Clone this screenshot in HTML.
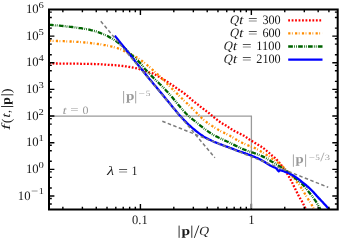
<!DOCTYPE html>
<html><head><meta charset="utf-8"><title>plot</title>
<style>html,body{margin:0;padding:0;background:#fff;}body{width:341px;height:243px;overflow:hidden;position:relative;font-family:"Liberation Serif",serif;}</style>
</head><body>
<svg width="341" height="243" viewBox="0 0 341 243" style="position:absolute;left:0;top:0;will-change:transform">
<rect x="0" y="0" width="341" height="243" fill="#fff"/>
<defs><clipPath id="c"><rect x="49.0" y="9.5" width="288.7" height="200.0"/></clipPath></defs>
<path d="M49.0,116.1 H251.4 V209.5" fill="none" stroke="#9a9a9a" stroke-width="1.3"/>
<g fill="none" clip-path="url(#c)">
<path d="M49.0,63.3 L50.0,63.4 L51.0,63.4 L52.0,63.4 L53.0,63.4 L54.0,63.5 L55.0,63.5 L56.0,63.5 L57.0,63.5 L58.0,63.5 L59.0,63.6 L60.0,63.6 L61.0,63.6 L62.0,63.6 L63.0,63.6 L64.0,63.6 L65.0,63.6 L66.0,63.6 L67.0,63.6 L68.0,63.6 L69.0,63.7 L70.0,63.7 L71.0,63.7 L72.0,63.7 L73.0,63.7 L74.0,63.7 L75.0,63.7 L76.0,63.7 L77.0,63.7 L78.0,63.7 L79.0,63.7 L80.0,63.7 L81.0,63.8 L82.0,63.8 L83.0,63.8 L84.0,63.8 L85.0,63.8 L86.0,63.8 L87.0,63.8 L88.0,63.9 L89.0,63.9 L90.0,63.9 L91.0,63.9 L92.0,64.0 L93.0,64.0 L94.0,64.0 L95.0,64.1 L96.0,64.1 L97.0,64.1 L98.0,64.2 L99.0,64.2 L100.0,64.3 L101.0,64.3 L102.0,64.4 L103.0,64.5 L104.0,64.5 L105.0,64.6 L106.0,64.6 L107.0,64.7 L108.0,64.8 L109.0,64.8 L110.0,64.9 L111.0,65.0 L112.0,65.0 L113.0,65.1 L114.0,65.2 L115.0,65.2 L116.0,65.3 L117.0,65.4 L118.0,65.5 L119.0,65.6 L120.0,65.7 L121.0,65.8 L122.0,65.9 L123.0,66.0 L124.0,66.1 L125.0,66.3 L126.0,66.4 L127.0,66.5 L128.0,66.7 L129.0,66.9 L130.0,67.0 L131.0,67.2 L132.0,67.4 L133.0,67.6 L134.0,67.8 L135.0,68.0 L136.0,68.2 L137.0,68.5 L138.0,68.7 L139.0,69.0 L140.0,69.3 L141.0,69.6 L142.0,69.9 L143.0,70.3 L144.0,70.6 L145.0,71.0 L146.0,71.3 L147.0,71.7 L148.0,72.0 L149.0,72.3 L150.0,72.6 L151.0,72.9 L152.0,73.2 L153.0,73.6 L154.0,74.1 L155.0,74.5 L156.0,75.1 L157.0,75.6 L158.0,76.2 L159.0,76.7 L160.0,77.3 L161.0,77.9 L162.0,78.5 L163.0,79.1 L164.0,79.7 L165.0,80.3 L166.0,81.0 L167.0,81.6 L168.0,82.3 L169.0,83.0 L170.0,83.6 L171.0,84.3 L172.0,85.0 L173.0,85.6 L174.0,86.3 L175.0,87.0 L176.0,87.7 L177.0,88.3 L178.0,89.0 L179.0,89.7 L180.0,90.3 L181.0,91.0 L182.0,91.7 L183.0,92.5 L184.0,93.2 L185.0,94.0 L186.0,94.8 L187.0,95.6 L188.0,96.4 L189.0,97.3 L190.0,98.2 L191.0,99.1 L192.0,100.0 L193.0,100.8 L194.0,101.6 L195.0,102.4 L196.0,103.2 L197.0,103.9 L198.0,104.7 L199.0,105.5 L200.0,106.3 L201.0,107.1 L202.0,107.9 L203.0,108.6 L204.0,109.4 L205.0,110.2 L206.0,110.9 L207.0,111.7 L208.0,112.4 L209.0,113.2 L210.0,114.0 L211.0,114.8 L212.0,115.6 L213.0,116.4 L214.0,117.3 L215.0,118.1 L216.0,118.9 L217.0,119.7 L218.0,120.5 L219.0,121.3 L220.0,122.0 L221.0,122.7 L222.0,123.3 L223.0,123.9 L224.0,124.4 L225.0,125.0 L226.0,125.6 L227.0,126.2 L228.0,126.9 L229.0,127.6 L230.0,128.3 L231.0,128.9 L232.0,129.5 L233.0,130.1 L234.0,130.7 L235.0,131.2 L236.0,131.7 L237.0,132.2 L238.0,132.7 L239.0,133.2 L240.0,133.7 L241.0,134.2 L242.0,134.7 L243.0,135.3 L244.0,135.8 L245.0,136.4 L246.0,137.1 L247.0,137.8 L248.0,138.5 L249.0,139.2 L250.0,139.9 L251.0,140.5 L252.0,141.1 L253.0,141.7 L254.0,142.3 L255.0,142.9 L256.0,143.5 L257.0,144.1 L258.0,144.7 L259.0,145.3 L260.0,145.9 L261.0,146.5 L262.0,147.2 L263.0,147.9 L264.0,148.6 L265.0,149.4 L266.0,150.2 L267.0,151.1 L268.0,151.9 L269.0,152.8 L270.0,153.8 L271.0,154.6 L272.0,155.5 L273.0,156.3 L274.0,157.1 L275.0,158.0 L276.0,159.0 L277.0,160.0 L278.0,161.1 L279.0,162.3 L280.0,163.4 L281.0,164.7 L282.0,166.0 L283.0,167.3 L284.0,168.8 L285.0,170.3 L286.0,171.9 L287.0,173.5 L288.0,175.1 L289.0,176.8 L290.0,178.6 L291.0,180.4 L292.0,182.3 L293.0,184.3 L294.0,186.4 L295.0,188.4 L296.0,190.4 L297.0,192.5 L298.0,194.5 L299.0,196.4 L300.0,198.2 L301.0,199.8 L302.0,201.5 L303.0,203.4 L304.0,205.4 L305.0,207.5 L305.8,209.3" stroke="#ff0000" stroke-width="2.3" stroke-dasharray="1.8 1.66"/>
<path d="M49.0,40.6 L50.0,40.7 L51.0,40.7 L52.0,40.7 L53.0,40.8 L54.0,40.8 L55.0,40.9 L56.0,40.9 L57.0,41.0 L58.0,41.0 L59.0,41.0 L60.0,41.1 L61.0,41.1 L62.0,41.2 L63.0,41.2 L64.0,41.2 L65.0,41.3 L66.0,41.3 L67.0,41.4 L68.0,41.4 L69.0,41.4 L70.0,41.5 L71.0,41.5 L72.0,41.6 L73.0,41.6 L74.0,41.7 L75.0,41.7 L76.0,41.8 L77.0,41.9 L78.0,41.9 L79.0,42.0 L80.0,42.1 L81.0,42.2 L82.0,42.2 L83.0,42.3 L84.0,42.4 L85.0,42.5 L86.0,42.6 L87.0,42.7 L88.0,42.8 L89.0,42.9 L90.0,43.0 L91.0,43.1 L92.0,43.3 L93.0,43.4 L94.0,43.5 L95.0,43.6 L96.0,43.7 L97.0,43.9 L98.0,44.0 L99.0,44.1 L100.0,44.3 L101.0,44.4 L102.0,44.6 L103.0,44.8 L104.0,45.0 L105.0,45.1 L106.0,45.3 L107.0,45.5 L108.0,45.7 L109.0,45.9 L110.0,46.1 L111.0,46.4 L112.0,46.6 L113.0,46.8 L114.0,47.1 L115.0,47.4 L116.0,47.7 L117.0,48.0 L118.0,48.3 L119.0,48.6 L120.0,49.0 L121.0,49.4 L122.0,49.9 L123.0,50.4 L124.0,50.9 L125.0,51.4 L126.0,52.0 L127.0,52.5 L128.0,53.0 L129.0,53.5 L130.0,54.0 L131.0,54.4 L132.0,54.9 L133.0,55.4 L134.0,55.9 L135.0,56.4 L136.0,57.0 L137.0,57.6 L138.0,58.2 L139.0,58.9 L140.0,59.5 L141.0,60.3 L142.0,61.0 L143.0,61.8 L144.0,62.5 L145.0,63.3 L146.0,64.1 L147.0,64.9 L148.0,65.8 L149.0,66.7 L150.0,67.5 L151.0,68.4 L152.0,69.3 L153.0,70.2 L154.0,71.1 L155.0,72.0 L156.0,72.9 L157.0,73.8 L158.0,74.7 L159.0,75.7 L160.0,76.6 L161.0,77.6 L162.0,78.6 L163.0,79.6 L164.0,80.6 L165.0,81.6 L166.0,82.6 L167.0,83.6 L168.0,84.6 L169.0,85.6 L170.0,86.6 L171.0,87.6 L172.0,88.6 L173.0,89.6 L174.0,90.6 L175.0,91.6 L176.0,92.6 L177.0,93.6 L178.0,94.6 L179.0,95.6 L180.0,96.6 L181.0,97.6 L182.0,98.5 L183.0,99.5 L184.0,100.5 L185.0,101.4 L186.0,102.4 L187.0,103.3 L188.0,104.3 L189.0,105.2 L190.0,106.2 L191.0,107.2 L192.0,108.2 L193.0,109.2 L194.0,110.3 L195.0,111.3 L196.0,112.3 L197.0,113.3 L198.0,114.3 L199.0,115.3 L200.0,116.3 L201.0,117.3 L202.0,118.3 L203.0,119.2 L204.0,120.1 L205.0,120.9 L206.0,121.7 L207.0,122.5 L208.0,123.2 L209.0,123.9 L210.0,124.5 L211.0,125.2 L212.0,125.9 L213.0,126.5 L214.0,127.1 L215.0,127.8 L216.0,128.4 L217.0,129.0 L218.0,129.6 L219.0,130.2 L220.0,130.7 L221.0,131.3 L222.0,131.8 L223.0,132.3 L224.0,132.8 L225.0,133.3 L226.0,133.8 L227.0,134.3 L228.0,134.8 L229.0,135.3 L230.0,135.8 L231.0,136.4 L232.0,137.0 L233.0,137.6 L234.0,138.2 L235.0,138.8 L236.0,139.4 L237.0,140.0 L238.0,140.6 L239.0,141.1 L240.0,141.7 L241.0,142.2 L242.0,142.7 L243.0,143.2 L244.0,143.7 L245.0,144.1 L246.0,144.6 L247.0,145.0 L248.0,145.4 L249.0,145.8 L250.0,146.2 L251.0,146.5 L252.0,146.9 L253.0,147.3 L254.0,147.7 L255.0,148.1 L256.0,148.6 L257.0,149.2 L258.0,149.7 L259.0,150.3 L260.0,150.9 L261.0,151.5 L262.0,152.1 L263.0,152.7 L264.0,153.3 L265.0,153.9 L266.0,154.6 L267.0,155.2 L268.0,155.9 L269.0,156.5 L270.0,157.2 L271.0,157.9 L272.0,158.5 L273.0,159.2 L274.0,159.9 L275.0,160.5 L276.0,161.2 L277.0,161.9 L278.0,162.6 L279.0,163.4 L280.0,164.2 L281.0,165.1 L282.0,166.0 L283.0,166.9 L284.0,167.9 L285.0,168.8 L286.0,169.8 L287.0,170.8 L288.0,171.8 L289.0,172.8 L290.0,173.9 L291.0,175.0 L292.0,176.1 L293.0,177.3 L294.0,178.5 L295.0,179.7 L296.0,180.9 L297.0,182.2 L298.0,183.4 L299.0,184.7 L300.0,186.1 L301.0,187.5 L302.0,189.0 L303.0,190.6 L304.0,192.3 L305.0,194.0 L306.0,195.7 L307.0,197.4 L308.0,198.9 L309.0,200.5 L310.0,202.0 L311.0,203.6 L312.0,205.3 L313.0,207.1 L314.0,208.9 L314.2,209.3" stroke="#ff8c00" stroke-width="2.3" stroke-dasharray="2.2 1.5 0.8 2.35"/>
<path d="M49.0,24.7 L50.0,24.8 L51.0,24.9 L52.0,25.0 L53.0,25.1 L54.0,25.2 L55.0,25.3 L56.0,25.3 L57.0,25.4 L58.0,25.5 L59.0,25.6 L60.0,25.7 L61.0,25.8 L62.0,25.9 L63.0,26.0 L64.0,26.1 L65.0,26.2 L66.0,26.3 L67.0,26.5 L68.0,26.6 L69.0,26.7 L70.0,26.8 L71.0,26.9 L72.0,27.0 L73.0,27.2 L74.0,27.3 L75.0,27.4 L76.0,27.5 L77.0,27.7 L78.0,27.8 L79.0,28.0 L80.0,28.1 L81.0,28.2 L82.0,28.4 L83.0,28.6 L84.0,28.7 L85.0,28.9 L86.0,29.1 L87.0,29.2 L88.0,29.4 L89.0,29.6 L90.0,29.8 L91.0,30.1 L92.0,30.3 L93.0,30.6 L94.0,30.8 L95.0,31.1 L96.0,31.4 L97.0,31.8 L98.0,32.1 L99.0,32.5 L100.0,32.9 L101.0,33.3 L102.0,33.7 L103.0,34.1 L104.0,34.5 L105.0,34.9 L106.0,35.4 L107.0,35.8 L108.0,36.3 L109.0,36.9 L110.0,37.4 L111.0,38.0 L112.0,38.5 L113.0,39.2 L114.0,39.8 L115.0,40.5 L116.0,41.1 L117.0,41.8 L118.0,42.6 L119.0,43.3 L120.0,44.1 L121.0,44.9 L122.0,45.7 L123.0,46.6 L124.0,47.5 L125.0,48.5 L126.0,49.4 L127.0,50.4 L128.0,51.4 L129.0,52.4 L130.0,53.4 L131.0,54.3 L132.0,55.3 L133.0,56.2 L134.0,57.1 L135.0,58.0 L136.0,59.0 L137.0,59.9 L138.0,60.9 L139.0,61.9 L140.0,62.9 L141.0,64.0 L142.0,65.2 L143.0,66.4 L144.0,67.7 L145.0,68.9 L146.0,70.0 L147.0,71.1 L148.0,72.2 L149.0,73.3 L150.0,74.3 L151.0,75.4 L152.0,76.4 L153.0,77.4 L154.0,78.4 L155.0,79.4 L156.0,80.4 L157.0,81.4 L158.0,82.3 L159.0,83.3 L160.0,84.3 L161.0,85.2 L162.0,86.2 L163.0,87.2 L164.0,88.2 L165.0,89.3 L166.0,90.4 L167.0,91.5 L168.0,92.6 L169.0,93.7 L170.0,94.8 L171.0,95.9 L172.0,97.1 L173.0,98.3 L174.0,99.5 L175.0,100.7 L176.0,101.9 L177.0,103.2 L178.0,104.4 L179.0,105.6 L180.0,106.7 L181.0,107.9 L182.0,109.1 L183.0,110.2 L184.0,111.3 L185.0,112.4 L186.0,113.5 L187.0,114.5 L188.0,115.5 L189.0,116.4 L190.0,117.3 L191.0,118.1 L192.0,118.9 L193.0,119.7 L194.0,120.4 L195.0,121.2 L196.0,122.0 L197.0,122.8 L198.0,123.6 L199.0,124.5 L200.0,125.3 L201.0,126.1 L202.0,126.9 L203.0,127.7 L204.0,128.5 L205.0,129.2 L206.0,130.0 L207.0,130.7 L208.0,131.4 L209.0,132.1 L210.0,132.8 L211.0,133.5 L212.0,134.1 L213.0,134.7 L214.0,135.3 L215.0,135.8 L216.0,136.3 L217.0,136.8 L218.0,137.3 L219.0,137.8 L220.0,138.2 L221.0,138.7 L222.0,139.2 L223.0,139.6 L224.0,140.1 L225.0,140.6 L226.0,141.0 L227.0,141.5 L228.0,141.9 L229.0,142.4 L230.0,142.9 L231.0,143.4 L232.0,143.9 L233.0,144.4 L234.0,144.9 L235.0,145.4 L236.0,145.9 L237.0,146.3 L238.0,146.8 L239.0,147.3 L240.0,147.7 L241.0,148.2 L242.0,148.6 L243.0,149.1 L244.0,149.5 L245.0,149.9 L246.0,150.3 L247.0,150.7 L248.0,151.0 L249.0,151.4 L250.0,151.7 L251.0,152.0 L252.0,152.4 L253.0,152.7 L254.0,153.0 L255.0,153.4 L256.0,153.8 L257.0,154.1 L258.0,154.5 L259.0,154.9 L260.0,155.3 L261.0,155.7 L262.0,156.1 L263.0,156.6 L264.0,157.1 L265.0,157.6 L266.0,158.2 L267.0,158.8 L268.0,159.4 L269.0,160.0 L270.0,160.6 L271.0,161.2 L272.0,161.8 L273.0,162.3 L274.0,162.9 L275.0,163.5 L276.0,164.2 L277.0,164.8 L278.0,165.4 L279.0,166.0 L280.0,166.6 L281.0,167.3 L282.0,167.9 L283.0,168.6 L284.0,169.2 L285.0,169.9 L286.0,170.6 L287.0,171.3 L288.0,172.1 L289.0,172.9 L290.0,173.7 L291.0,174.6 L292.0,175.4 L293.0,176.3 L294.0,177.1 L295.0,178.0 L296.0,178.8 L297.0,179.6 L298.0,180.5 L299.0,181.3 L300.0,182.1 L301.0,183.0 L302.0,183.9 L303.0,184.9 L304.0,186.0 L305.0,187.1 L306.0,188.3 L307.0,189.6 L308.0,190.9 L309.0,192.2 L310.0,193.5 L311.0,194.8 L312.0,196.1 L313.0,197.4 L314.0,198.8 L315.0,200.2 L316.0,201.7 L317.0,203.3 L318.0,205.0 L319.0,206.8 L320.0,208.6 L320.4,209.3" stroke="#006400" stroke-width="2.3" stroke-dasharray="4.7 1.2 0.8 1.1 0.8 1.3"/>
<path d="M114.8,35.6 L115.8,36.9 L116.8,38.1 L117.8,39.4 L118.8,40.7 L119.8,41.9 L120.8,43.2 L121.8,44.4 L122.8,45.7 L123.8,47.0 L124.8,48.2 L125.8,49.5 L126.8,50.8 L127.8,52.0 L128.8,53.3 L129.8,54.5 L130.8,55.8 L131.8,57.1 L132.8,58.3 L133.8,59.6 L134.8,60.9 L135.8,62.1 L136.8,63.4 L137.8,64.6 L138.8,65.9 L139.8,67.1 L140.8,68.4 L141.8,69.6 L142.8,70.8 L143.8,72.1 L144.8,73.3 L145.8,74.5 L146.8,75.7 L147.8,77.0 L148.8,78.2 L149.8,79.4 L150.8,80.6 L151.8,81.8 L152.8,83.0 L153.8,84.2 L154.8,85.4 L155.8,86.6 L156.8,87.8 L157.8,89.0 L158.8,90.2 L159.8,91.4 L160.8,92.6 L161.8,93.8 L162.8,95.0 L163.8,96.2 L164.8,97.4 L165.8,98.7 L166.8,99.9 L167.8,101.1 L168.8,102.3 L169.8,103.5 L170.8,104.8 L171.8,106.0 L172.8,107.2 L173.8,108.4 L174.8,109.6 L175.8,110.8 L176.8,112.0 L177.8,113.2 L178.8,114.4 L179.8,115.5 L180.8,116.6 L181.8,117.7 L182.8,118.8 L183.8,119.8 L184.8,120.9 L185.8,121.9 L186.8,122.9 L187.8,123.8 L188.8,124.8 L189.8,125.7 L190.8,126.6 L191.8,127.5 L192.8,128.4 L193.8,129.2 L194.8,130.0 L195.8,130.8 L196.8,131.6 L197.8,132.4 L198.8,133.2 L199.8,133.9 L200.8,134.6 L201.8,135.3 L202.8,136.0 L203.8,136.7 L204.8,137.3 L205.8,137.8 L206.8,138.4 L207.8,138.9 L208.8,139.4 L209.8,139.8 L210.8,140.3 L211.8,140.8 L212.8,141.2 L213.8,141.7 L214.8,142.1 L215.8,142.5 L216.8,142.9 L217.8,143.3 L218.8,143.7 L219.8,144.1 L220.8,144.4 L221.8,144.8 L222.8,145.2 L223.8,145.6 L224.8,145.9 L225.8,146.3 L226.8,146.6 L227.8,147.0 L228.8,147.4 L229.8,147.8 L230.8,148.1 L231.8,148.5 L232.8,148.9 L233.8,149.3 L234.8,149.7 L235.8,150.1 L236.8,150.5 L237.8,150.9 L238.8,151.2 L239.8,151.6 L240.8,151.9 L241.8,152.2 L242.8,152.5 L243.8,152.9 L244.8,153.2 L245.8,153.6 L246.8,153.9 L247.8,154.3 L248.8,154.6 L249.8,155.0 L250.8,155.4 L251.8,155.8 L252.8,156.2 L253.8,156.6 L254.8,157.0 L255.8,157.5 L256.8,157.9 L257.8,158.4 L258.8,158.9 L259.8,159.3 L260.8,159.8 L261.8,160.4 L262.8,160.9 L263.8,161.5 L264.8,162.1 L265.8,162.7 L266.8,163.3 L267.8,164.0 L268.8,164.6 L269.8,165.3 L270.8,165.8 L271.8,166.3 L272.8,166.7 L273.8,167.1 L274.8,167.5 L275.8,168.1 L276.8,168.9 L277.8,170.4 L278.8,171.2 L279.8,170.3 L280.8,170.4 L281.8,170.6 L282.8,170.9 L283.8,171.3 L284.8,171.7 L285.8,172.1 L286.8,172.4 L287.8,172.8 L288.8,173.3 L289.8,173.7 L290.8,174.2 L291.8,174.7 L292.8,175.3 L293.8,175.9 L294.8,176.5 L295.8,177.1 L296.8,177.8 L297.8,178.6 L298.8,179.4 L299.8,180.2 L300.8,181.0 L301.8,181.8 L302.8,182.6 L303.8,183.4 L304.8,184.2 L305.8,185.0 L306.8,185.9 L307.8,186.7 L308.8,187.6 L309.8,188.5 L310.8,189.5 L311.8,190.5 L312.8,191.5 L313.8,192.6 L314.8,193.7 L315.8,194.8 L316.8,195.9 L317.8,197.0 L318.8,198.1 L319.8,199.1 L320.8,200.2 L321.8,201.3 L322.8,202.3 L323.8,203.4 L324.8,204.5 L325.8,205.6 L326.8,206.7 L327.8,207.8 L328.8,208.9 L329.2,209.3" stroke="#0000ff" stroke-width="2.3"/>
</g>
<g stroke="#7c7c7c" stroke-width="1.5" fill="none" stroke-dasharray="3.5 2.4">
<path d="M100.8,21.3 L214.9,157.8"/>
<path d="M162.3,121.2 L328.2,187.3"/>
</g>
<path d="M49.0,195.98h5.4 M337.7,195.98h-5.4 M49.0,187.96h2.8 M337.7,187.96h-2.8 M49.0,177.36h2.8 M337.7,177.36h-2.8 M49.0,171.92h2.8 M337.7,171.92h-2.8 M49.0,169.34h5.4 M337.7,169.34h-5.4 M49.0,161.32h2.8 M337.7,161.32h-2.8 M49.0,150.72h2.8 M337.7,150.72h-2.8 M49.0,145.28h2.8 M337.7,145.28h-2.8 M49.0,142.70h5.4 M337.7,142.70h-5.4 M49.0,134.68h2.8 M337.7,134.68h-2.8 M49.0,124.08h2.8 M337.7,124.08h-2.8 M49.0,118.64h2.8 M337.7,118.64h-2.8 M49.0,116.06h5.4 M337.7,116.06h-5.4 M49.0,108.04h2.8 M337.7,108.04h-2.8 M49.0,97.44h2.8 M337.7,97.44h-2.8 M49.0,92.00h2.8 M337.7,92.00h-2.8 M49.0,89.42h5.4 M337.7,89.42h-5.4 M49.0,81.40h2.8 M337.7,81.40h-2.8 M49.0,70.80h2.8 M337.7,70.80h-2.8 M49.0,65.36h2.8 M337.7,65.36h-2.8 M49.0,62.78h5.4 M337.7,62.78h-5.4 M49.0,54.76h2.8 M337.7,54.76h-2.8 M49.0,44.16h2.8 M337.7,44.16h-2.8 M49.0,38.72h2.8 M337.7,38.72h-2.8 M49.0,36.14h5.4 M337.7,36.14h-5.4 M49.0,28.12h2.8 M337.7,28.12h-2.8 M49.0,17.52h2.8 M337.7,17.52h-2.8 M49.0,12.08h2.8 M337.7,12.08h-2.8 M49.0,204.00h2.8 M337.7,204.00h-2.8 M49.0,198.56h2.8 M337.7,198.56h-2.8 M62.86,209.5v-2.8 M62.86,9.5v2.8 M82.40,209.5v-2.8 M82.40,9.5v2.8 M96.26,209.5v-2.8 M96.26,9.5v2.8 M107.01,209.5v-2.8 M107.01,9.5v2.8 M115.80,209.5v-2.8 M115.80,9.5v2.8 M123.23,209.5v-2.8 M123.23,9.5v2.8 M129.66,209.5v-2.8 M129.66,9.5v2.8 M135.34,209.5v-2.8 M135.34,9.5v2.8 M140.41,209.5v-5.4 M140.41,9.5v5.4 M173.81,209.5v-2.8 M173.81,9.5v2.8 M193.35,209.5v-2.8 M193.35,9.5v2.8 M207.21,209.5v-2.8 M207.21,9.5v2.8 M217.96,209.5v-2.8 M217.96,9.5v2.8 M226.75,209.5v-2.8 M226.75,9.5v2.8 M234.18,209.5v-2.8 M234.18,9.5v2.8 M240.61,209.5v-2.8 M240.61,9.5v2.8 M246.29,209.5v-2.8 M246.29,9.5v2.8 M251.36,209.5v-5.4 M251.36,9.5v5.4 M284.76,209.5v-2.8 M284.76,9.5v2.8 M304.30,209.5v-2.8 M304.30,9.5v2.8 M318.16,209.5v-2.8 M318.16,9.5v2.8 M328.91,209.5v-2.8 M328.91,9.5v2.8" stroke="#000" stroke-width="1.4" fill="none"/>
<path d="M251.4,203.5 V208.5" stroke="#8c8c8c" stroke-width="1.5" fill="none"/>
<rect x="49.0" y="9.5" width="288.7" height="200.0" fill="none" stroke="#000" stroke-width="2"/>
<path d="M288.2,20.4 H322.5" stroke="#ff0000" stroke-width="2.3" stroke-dasharray="1.8 1.66" fill="none"/>
<path d="M288.2,33.4 H322.5" stroke="#ff8c00" stroke-width="2.3" stroke-dasharray="2.2 1.5 0.8 2.35" fill="none"/>
<path d="M288.2,46.5 H322.5" stroke="#006400" stroke-width="2.3" stroke-dasharray="4.7 1.2 0.8 1.1 0.8 1.3" fill="none"/>
<path d="M288.2,59.7 H322.5" stroke="#0000ff" stroke-width="2.3" fill="none"/>
<g font-family="Liberation Serif, serif" fill="#1a1a1a" text-rendering="geometricPrecision">
<text x="17.80" y="199.58" font-size="12.9" textLength="12.70" lengthAdjust="spacingAndGlyphs">10</text>
<text x="30.90" y="194.48" font-size="9" textLength="7.20" lengthAdjust="spacingAndGlyphs">&#8722;</text>
<text x="38.70" y="194.48" font-size="9" textLength="5.10" lengthAdjust="spacingAndGlyphs">1</text>
<text x="25.90" y="172.94" font-size="12.9" textLength="12.70" lengthAdjust="spacingAndGlyphs">10</text>
<text x="38.50" y="167.84" font-size="9" textLength="5.30" lengthAdjust="spacingAndGlyphs">0</text>
<text x="25.90" y="146.30" font-size="12.9" textLength="12.70" lengthAdjust="spacingAndGlyphs">10</text>
<text x="38.50" y="141.20" font-size="9" textLength="5.30" lengthAdjust="spacingAndGlyphs">1</text>
<text x="25.90" y="119.66" font-size="12.9" textLength="12.70" lengthAdjust="spacingAndGlyphs">10</text>
<text x="38.50" y="114.56" font-size="9" textLength="5.30" lengthAdjust="spacingAndGlyphs">2</text>
<text x="25.90" y="93.02" font-size="12.9" textLength="12.70" lengthAdjust="spacingAndGlyphs">10</text>
<text x="38.50" y="87.92" font-size="9" textLength="5.30" lengthAdjust="spacingAndGlyphs">3</text>
<text x="25.90" y="66.38" font-size="12.9" textLength="12.70" lengthAdjust="spacingAndGlyphs">10</text>
<text x="38.50" y="61.28" font-size="9" textLength="5.30" lengthAdjust="spacingAndGlyphs">4</text>
<text x="25.90" y="39.74" font-size="12.9" textLength="12.70" lengthAdjust="spacingAndGlyphs">10</text>
<text x="38.50" y="34.64" font-size="9" textLength="5.30" lengthAdjust="spacingAndGlyphs">5</text>
<text x="25.90" y="13.10" font-size="12.9" textLength="12.70" lengthAdjust="spacingAndGlyphs">10</text>
<text x="38.50" y="8.00" font-size="9" textLength="5.30" lengthAdjust="spacingAndGlyphs">6</text>
<text x="132.10" y="223.70" font-size="12.9" textLength="15.60" lengthAdjust="spacingAndGlyphs">0.1</text>
<text x="248.30" y="223.70" font-size="12.9" textLength="6.40" lengthAdjust="spacingAndGlyphs">1</text>
<text x="262.40" y="23.90" font-size="12.9" textLength="18.30" lengthAdjust="spacingAndGlyphs">300</text>
<text x="248.00" y="23.90" font-size="12.9" textLength="9.60" lengthAdjust="spacingAndGlyphs">=</text>
<text transform="translate(229.20,23.90) skewX(-13)" font-size="12.9" textLength="9.00" lengthAdjust="spacingAndGlyphs">Q</text>
<text transform="translate(238.40,23.90) skewX(-13)" font-size="12.9" textLength="4.20" lengthAdjust="spacingAndGlyphs">t</text>
<text x="262.40" y="37.00" font-size="12.9" textLength="18.30" lengthAdjust="spacingAndGlyphs">600</text>
<text x="248.00" y="37.00" font-size="12.9" textLength="9.60" lengthAdjust="spacingAndGlyphs">=</text>
<text transform="translate(229.20,37.00) skewX(-13)" font-size="12.9" textLength="9.00" lengthAdjust="spacingAndGlyphs">Q</text>
<text transform="translate(238.40,37.00) skewX(-13)" font-size="12.9" textLength="4.20" lengthAdjust="spacingAndGlyphs">t</text>
<text x="256.30" y="50.10" font-size="12.9" textLength="24.40" lengthAdjust="spacingAndGlyphs">1100</text>
<text x="241.90" y="50.10" font-size="12.9" textLength="9.60" lengthAdjust="spacingAndGlyphs">=</text>
<text transform="translate(223.10,50.10) skewX(-13)" font-size="12.9" textLength="9.00" lengthAdjust="spacingAndGlyphs">Q</text>
<text transform="translate(232.30,50.10) skewX(-13)" font-size="12.9" textLength="4.20" lengthAdjust="spacingAndGlyphs">t</text>
<text x="256.30" y="63.40" font-size="12.9" textLength="24.40" lengthAdjust="spacingAndGlyphs">2100</text>
<text x="241.90" y="63.40" font-size="12.9" textLength="9.60" lengthAdjust="spacingAndGlyphs">=</text>
<text transform="translate(223.10,63.40) skewX(-13)" font-size="12.9" textLength="9.00" lengthAdjust="spacingAndGlyphs">Q</text>
<text transform="translate(232.30,63.40) skewX(-13)" font-size="12.9" textLength="4.20" lengthAdjust="spacingAndGlyphs">t</text>
<path d="M179.10,225.60V237.80" stroke="#1a1a1a" stroke-width="0.9" fill="none"/>
<path d="M191.80,225.60V237.80" stroke="#1a1a1a" stroke-width="0.9" fill="none"/>
<text x="181.40" y="235.00" font-size="12.5" font-weight="bold" textLength="8.60" lengthAdjust="spacingAndGlyphs">p</text>
<path d="M194.3,237.9 L198.9,225.5" stroke="#1a1a1a" stroke-width="0.9" fill="none"/>
<text transform="translate(198.60,235.00) skewX(-13)" font-size="12.5" textLength="9.80" lengthAdjust="spacingAndGlyphs">Q</text>
<g transform="translate(10.3,130.2) rotate(-90)">
<text transform="translate(-0.50,0.00) skewX(-13)" font-size="12.5" textLength="6.30" lengthAdjust="spacingAndGlyphs">f</text>
<text x="7.00" y="0.40" font-size="13.5" textLength="4.80" lengthAdjust="spacingAndGlyphs">(</text>
<text transform="translate(12.00,0.00) skewX(-13)" font-size="12.5" textLength="4.20" lengthAdjust="spacingAndGlyphs">t</text>
<text x="17.20" y="0.00" font-size="12.5" textLength="3.00" lengthAdjust="spacingAndGlyphs">,</text>
<path d="M23.70,-9.20V3.00" stroke="#1a1a1a" stroke-width="0.9" fill="none"/>
<path d="M35.40,-9.20V3.00" stroke="#1a1a1a" stroke-width="0.9" fill="none"/>
<text x="25.40" y="0.00" font-size="12.5" font-weight="bold" textLength="7.60" lengthAdjust="spacingAndGlyphs">p</text>
<text x="37.00" y="0.40" font-size="13.5" textLength="4.80" lengthAdjust="spacingAndGlyphs">)</text>
</g>
<text transform="translate(106.20,175.00) skewX(-13)" font-size="12.9" textLength="7.40" lengthAdjust="spacingAndGlyphs">&#955;</text>
<text x="118.30" y="175.00" font-size="12.9" textLength="9.70" lengthAdjust="spacingAndGlyphs">=</text>
<text x="131.60" y="175.00" font-size="12.9" textLength="6.00" lengthAdjust="spacingAndGlyphs">1</text>
<text transform="translate(62.00,113.60) skewX(-13)" font-size="11.2" fill="#9a9a9a" textLength="4.10" lengthAdjust="spacingAndGlyphs">t</text>
<text x="70.30" y="113.40" font-size="11.2" fill="#9a9a9a" textLength="8.30" lengthAdjust="spacingAndGlyphs">=</text>
<text x="82.60" y="113.60" font-size="11.2" fill="#9a9a9a" textLength="6.00" lengthAdjust="spacingAndGlyphs">0</text>
<path d="M123.60,91.00V103.40" stroke="#9a9a9a" stroke-width="0.9" fill="none"/>
<path d="M135.70,91.00V103.40" stroke="#9a9a9a" stroke-width="0.9" fill="none"/>
<text x="125.90" y="100.00" font-size="12.5" font-weight="bold" fill="#9a9a9a" textLength="8.40" lengthAdjust="spacingAndGlyphs">p</text>
<text x="138.40" y="95.60" font-size="8" fill="#9a9a9a" textLength="6.40" lengthAdjust="spacingAndGlyphs">&#8722;</text>
<text x="145.70" y="95.60" font-size="8" fill="#9a9a9a" textLength="4.70" lengthAdjust="spacingAndGlyphs">5</text>
<path d="M293.40,154.40V166.80" stroke="#9a9a9a" stroke-width="0.9" fill="none"/>
<path d="M305.60,154.40V166.80" stroke="#9a9a9a" stroke-width="0.9" fill="none"/>
<text x="295.50" y="163.20" font-size="12.5" font-weight="bold" fill="#9a9a9a" textLength="8.20" lengthAdjust="spacingAndGlyphs">p</text>
<text x="308.70" y="159.60" font-size="8" fill="#9a9a9a" textLength="6.20" lengthAdjust="spacingAndGlyphs">&#8722;</text>
<text x="315.30" y="159.60" font-size="8" fill="#9a9a9a" textLength="4.60" lengthAdjust="spacingAndGlyphs">5</text>
<path d="M320.7,161.3 L324.0,152.7" stroke="#9a9a9a" stroke-width="0.8" fill="none"/>
<text x="324.70" y="159.60" font-size="8" fill="#9a9a9a" textLength="5.30" lengthAdjust="spacingAndGlyphs">3</text>
</g>
</svg>
</body></html>
